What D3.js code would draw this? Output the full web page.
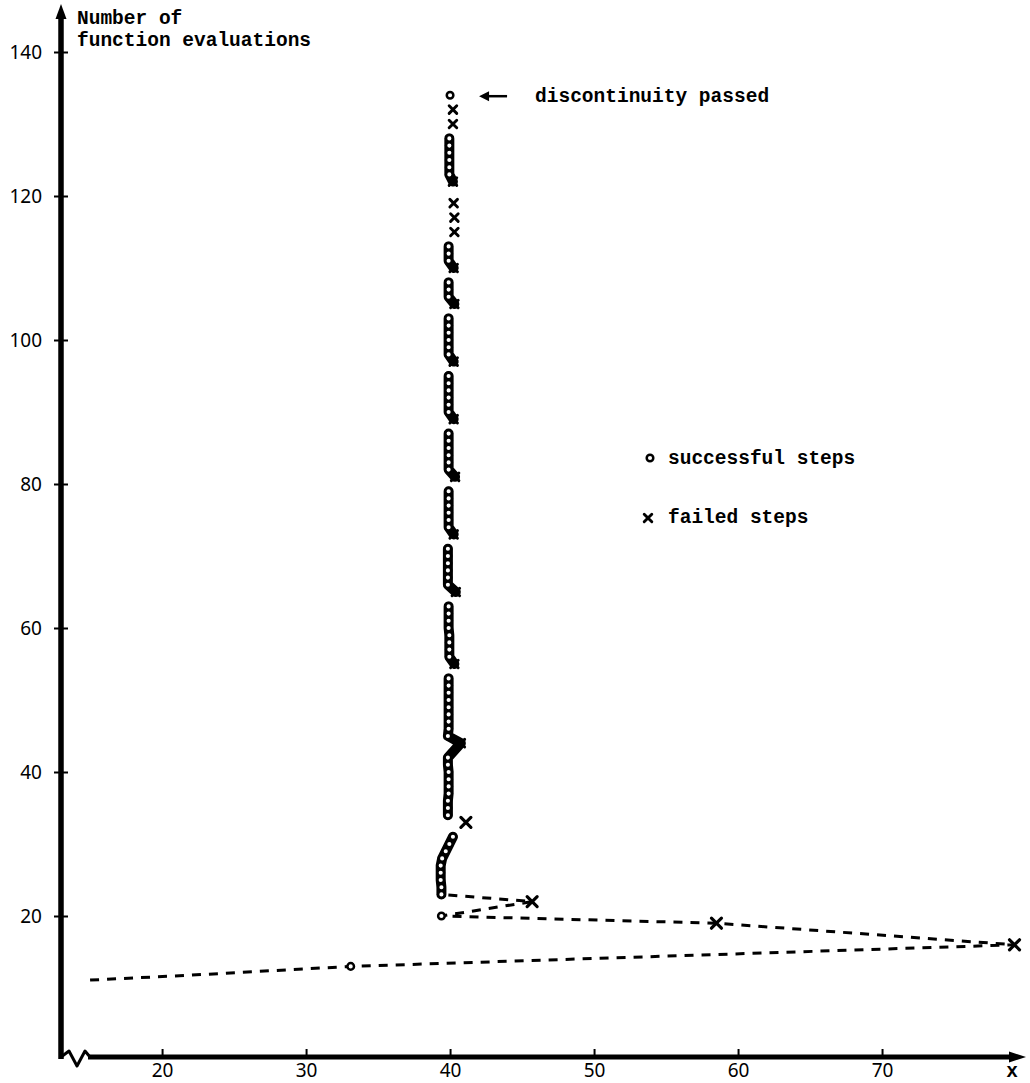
<!DOCTYPE html>
<html>
<head>
<meta charset="utf-8">
<script src="https://cdn.jsdelivr.net/npm/d3@7"></script>
<style>
  body { margin: 0; background: #fff; }
  svg { display: block; }
  .mono { font-family: "Liberation Mono", "DejaVu Sans Mono", monospace; font-weight: bold; font-size: 19.5px; fill: #000; }
  .tick text { font-family: "Noto Sans", sans-serif; font-size: 19px; fill: #000; }
</style>
</head>
<body>
<div id="chart"></div>
<script>
////////////////////////////////////////////////////////////////////
////////////////////////////  Data  ////////////////////////////////

const xTicks = [20, 30, 40, 50, 60, 70];
const yTicks = [20, 40, 60, 80, 100, 120, 140];

// approach towards the discontinuity (dashed), in evaluation order
const approachX = [15.0, 21.2, 33.1, 79.2, 58.5, 39.4, 45.7, 39.4];
const approachN = [11.1, 11.7, 13, 16, 19, 20, 22, 23];
const approachStep = ["", "", "o", "x", "x", "o", "x", "o"];

// steps stuck at the discontinuity (solid), in evaluation order
const colN = [
  23, 24, 25, 26, 27, 28, 29, 30, 31,
  33,
  34, 35, 36, 37, 38, 39, 40, 41, 42,
  44,
  45, 46, 47, 48, 49, 50, 51, 52, 53,
  55,
  56, 57, 58, 59, 60, 61, 62, 63,
  65,
  66, 67, 68, 69, 70, 71,
  73,
  74, 75, 76, 77, 78, 79,
  81,
  82, 83, 84, 85, 86, 87,
  89,
  90, 91, 92, 93, 94, 95,
  97,
  98, 99, 100, 101, 102, 103,
  105,
  106, 107, 108,
  110,
  111, 112, 113,
  115, 117, 119, 122,
  123, 124, 125, 126, 127, 128,
  130, 132,
  134
];
const colX = [
  39.4, 39.4, 39.35, 39.35, 39.35, 39.45, 39.7, 39.95, 40.2,
  41.1,
  39.85, 39.85, 39.85, 39.9, 39.9, 39.9, 39.9, 39.85, 39.85,
  40.75,
  39.85, 39.9, 39.9, 39.9, 39.9, 39.9, 39.9, 39.9, 39.9,
  40.3,
  39.95, 39.95, 39.95, 39.95, 39.9, 39.9, 39.9, 39.9,
  40.4,
  39.85, 39.85, 39.85, 39.85, 39.85, 39.85,
  40.25,
  39.9, 39.9, 39.9, 39.9, 39.9, 39.9,
  40.35,
  39.9, 39.9, 39.9, 39.9, 39.9, 39.9,
  40.25,
  39.9, 39.9, 39.9, 39.9, 39.9, 39.9,
  40.25,
  39.9, 39.9, 39.9, 39.9, 39.9, 39.9,
  40.3,
  39.9, 39.9, 39.9,
  40.25,
  39.9, 39.9, 39.9,
  40.3, 40.3, 40.25, 40.2,
  39.95, 39.95, 39.95, 39.95, 39.95, 39.95,
  40.2, 40.2,
  40.0
];
const colStep = [
  "o", "o", "o", "o", "o", "o", "o", "o", "o",
  "x",
  "o", "o", "o", "o", "o", "o", "o", "o", "o",
  "x",
  "o", "o", "o", "o", "o", "o", "o", "o", "o",
  "x",
  "o", "o", "o", "o", "o", "o", "o", "o",
  "x",
  "o", "o", "o", "o", "o", "o",
  "x",
  "o", "o", "o", "o", "o", "o",
  "x",
  "o", "o", "o", "o", "o", "o",
  "x",
  "o", "o", "o", "o", "o", "o",
  "x",
  "o", "o", "o", "o", "o", "o",
  "x",
  "o", "o", "o",
  "x",
  "o", "o", "o",
  "x", "x", "x", "x",
  "o", "o", "o", "o", "o", "o",
  "x", "x",
  "o"
];
// 1 = drawn line joins this step to the previous one
const colJoin = [
  0, 1, 1, 1, 1, 1, 1, 1, 1,
  0,
  0, 1, 1, 1, 1, 1, 1, 1, 1,
  1,
  1, 1, 1, 1, 1, 1, 1, 1, 1,
  0,
  1, 1, 1, 1, 1, 1, 1, 1,
  0,
  1, 1, 1, 1, 1, 1,
  0,
  1, 1, 1, 1, 1, 1,
  0,
  1, 1, 1, 1, 1, 1,
  0,
  1, 1, 1, 1, 1, 1,
  0,
  1, 1, 1, 1, 1, 1,
  0,
  1, 1, 1,
  0,
  1, 1, 1,
  0, 0, 0, 0,
  1, 1, 1, 1, 1, 1,
  0, 0,
  0
];

////////////////////////////////////////////////////////////////////
////////////////////////////  Init  ////////////////////////////////

const width = 1030;
const height = 1083;
const axisX = 61;
const axisY = 1057;

const svg = d3.select("#chart").append("svg")
  .attr("width", width)
  .attr("height", height);

const x = d3.scaleLinear().domain([13.05, 79.72]).range([62, 1022]);
const y = d3.scaleLinear().domain([0, 140]).range([1060, 52]);

// markers
function circleMark(g, cx, cy, r) {
  g.append("circle")
    .attr("cx", cx).attr("cy", cy).attr("r", r)
    .attr("fill", "#fff").attr("stroke", "#000").attr("stroke-width", 2.5);
}
function crossMark(g, cx, cy, s, w) {
  g.append("path")
    .attr("d", `M${cx - s},${cy - s}L${cx + s},${cy + s}M${cx - s},${cy + s}L${cx + s},${cy - s}`)
    .attr("stroke", "#000").attr("stroke-width", w).attr("stroke-linecap", "round");
}

////////////////////////////////////////////////////////////////////
////////////////////////////  Axes  ////////////////////////////////

svg.append("g")
  .attr("transform", `translate(${axisX},0)`)
  .call(d3.axisLeft(y).tickValues(yTicks).tickSize(7).tickPadding(12))
  .call((g) => g.select(".domain").remove())
  .call((g) => g.selectAll(".tick line").attr("x1", -7).attr("x2", 7).attr("stroke-width", 2));

svg.append("g")
  .attr("transform", `translate(0,${axisY})`)
  .call(d3.axisBottom(x).tickValues(xTicks).tickSize(0).tickPadding(7))
  .call((g) => g.select(".domain").remove())
  .call((g) => g.selectAll(".tick line").attr("y1", 0).attr("y2", -8).attr("stroke-width", 2));

// axis lines with arrows and broken origin
svg.append("path")
  .attr("d", `M${axisX},${axisY + 2}V16`)
  .attr("stroke", "#000").attr("stroke-width", 5.5);
svg.append("path")
  .attr("d", `M${axisX - 5.5},19L${axisX},4L${axisX + 5.5},19Z`)
  .attr("fill", "#000");
svg.append("path")
  .attr("d", `M${axisX},${axisY}L69,${axisY - 6}L77,${axisY + 9}L85,${axisY - 6}L90,${axisY}`)
  .attr("fill", "none").attr("stroke", "#000").attr("stroke-width", 3).attr("stroke-linejoin", "round");
svg.append("path")
  .attr("d", `M88,${axisY}H1012`)
  .attr("stroke", "#000").attr("stroke-width", 5);
svg.append("path")
  .attr("d", `M1009,${axisY - 5.5}L1026,${axisY}L1009,${axisY + 5.5}Z`)
  .attr("fill", "#000");

svg.append("text").attr("class", "mono").attr("x", 77).attr("y", 24).text("Number of");
svg.append("text").attr("class", "mono").attr("x", 77).attr("y", 46).text("function evaluations");
svg.append("text").attr("class", "mono").attr("x", 1012).attr("y", 1077)
  .attr("text-anchor", "middle").text("x");

////////////////////////////////////////////////////////////////////
////////////////////////////  Steps  ///////////////////////////////

const approach = approachX.map((d, i) => ({ x: d, n: approachN[i], step: approachStep[i] }));
const column = colX.map((d, i) => ({ x: d, n: colN[i], step: colStep[i], join: colJoin[i] }));

const line = d3.line()
  .x((d) => x(d.x))
  .y((d) => y(d.n));

svg.append("path")
  .datum(approach)
  .attr("d", line)
  .attr("fill", "none")
  .attr("stroke", "#000")
  .attr("stroke-width", 3)
  .attr("stroke-dasharray", "9,8");

// solid runs of joined steps
const runs = [];
column.forEach((d) => {
  if (!d.join || !runs.length) runs.push([d]);
  else runs[runs.length - 1].push(d);
});

svg.append("g")
  .selectAll("path")
  .data(runs.filter((r) => r.length > 1))
  .join("path")
  .attr("d", line)
  .attr("fill", "none")
  .attr("stroke", "#000")
  .attr("stroke-width", 10)
  .attr("stroke-linecap", "round")
  .attr("stroke-linejoin", "round");

const marks = svg.append("g");
approach.concat(column).forEach((d) => {
  if (d.step === "o") circleMark(marks, x(d.x), y(d.n), 3.3);
  if (d.step === "x") {
    const big = d.n <= 33;
    crossMark(marks, x(d.x), y(d.n), big ? 5 : 3.8, big ? 3.2 : 2.9);
  }
});

////////////////////////////////////////////////////////////////////
////////////////////////////  Notes  ///////////////////////////////

const lastStep = column[column.length - 1];
const lx = x(lastStep.x);
const ly = y(lastStep.n);
svg.append("path")
  .attr("d", `M${lx + 57},${ly + 1}H${lx + 34}`)
  .attr("stroke", "#000").attr("stroke-width", 2.5);
svg.append("path")
  .attr("d", `M${lx + 39},${ly - 4}L${lx + 29},${ly + 1}L${lx + 39},${ly + 6}Z`)
  .attr("fill", "#000");
svg.append("text").attr("class", "mono")
  .attr("x", lx + 85).attr("y", ly + 7)
  .text("discontinuity passed");

// legend
circleMark(svg, 650, 458, 3.3);
svg.append("text").attr("class", "mono").attr("x", 668).attr("y", 464).text("successful steps");
crossMark(svg, 648, 518, 3.8, 2.9);
svg.append("text").attr("class", "mono").attr("x", 668).attr("y", 523).text("failed steps");
</script>
</body>
</html>
